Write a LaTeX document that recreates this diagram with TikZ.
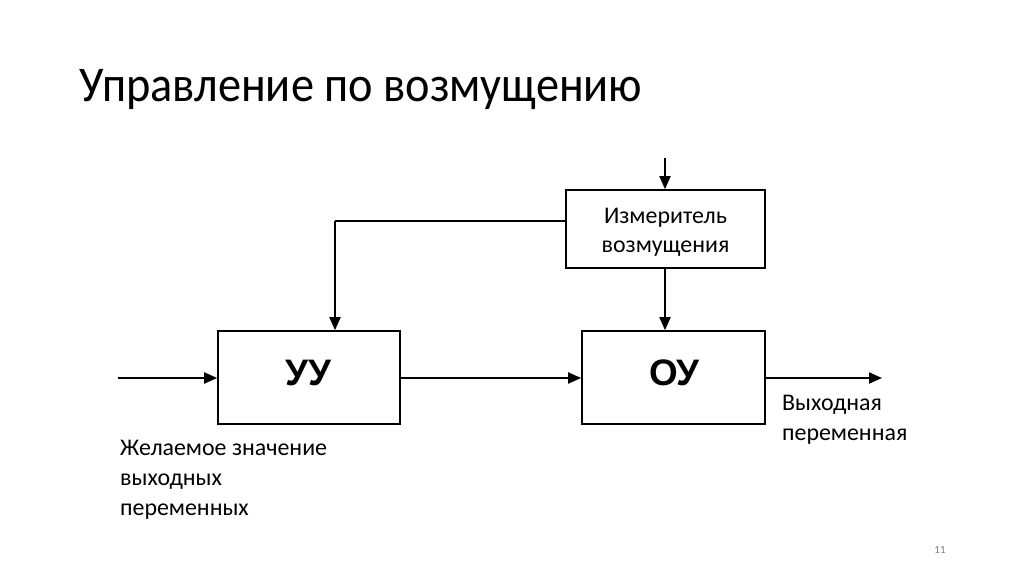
\documentclass[tikz,border=0pt]{standalone}
\usepackage{fontspec}
\setmainfont{Carlito}
\newfontfamily\arialfont{Liberation Sans}
\usetikzlibrary{arrows.meta}
\begin{document}
\begin{tikzpicture}[x=1bp,y=-1bp,
  blockbox/.style={draw,line width=1.6bp,inner sep=0pt},
  conn/.style={line width=1.8bp,-{Triangle[length=13bp,width=11bp]}},
  plain/.style={line width=1.6bp},
  bigtxt/.style={inner sep=0pt,anchor=base,font=\arialfont\bfseries\fontsize{37}{40}\selectfont},
  lbl/.style={font=\fontsize{24}{30}\selectfont,align=left,inner sep=0pt}]
\useasboundingbox (0,0) rectangle (1024,574);
\fill[white] (0,0) rectangle (1024,574);
\node[anchor=base west,inner sep=0pt,font=\fontsize{46.5}{50}\selectfont] (title) at (79,102) {\scalebox{1}[1.08]{Управление по возмущению}};
\node[blockbox,minimum width=199bp,minimum height=78bp] (meas) at (665.5,229) {};
\node[lbl,align=center,anchor=base] (meastxt) at (665.5,253) {Измеритель\\возмущения};
\node[blockbox,minimum width=182bp,minimum height=93bp] (uu) at (309,377.5) {};
\node[bigtxt] (uutxt) at (308.5,385) {УУ};
\node[blockbox,minimum width=183bp,minimum height=93bp] (ou) at (673.5,377.5) {};
\node[bigtxt] (outxt) at (674.5,385.5) {ОУ};
\coordinate (topin) at (665,158);
\coordinate (lin) at (118,378);
\coordinate (rout) at (882,378);
\coordinate (corner) at (335,221);
\draw[conn] (topin) -- (topin |- meas.north);
\draw[plain] (meas.west |- corner) -- (corner);
\draw[conn] (corner) -- (corner |- uu.north);
\draw[conn] (meas.south -| topin) -- (topin |- ou.north);
\draw[conn] (lin) -- (lin -| uu.west);
\draw[conn] (uu.east |- lin) -- (lin -| ou.west);
\draw[conn] (ou.east |- rout) -- (rout);
\node[lbl,anchor=base west] (outlbl) at (782,440) {Выходная\\переменная};
\node[lbl,anchor=base west] (inlbl) at (120,515) {Желаемое значение\\выходных\\переменных};
\node[anchor=center,inner sep=0pt,text=gray,font=\fontsize{11}{12}\selectfont] (pg) at (940,550) {11};
\end{tikzpicture}
\end{document}
